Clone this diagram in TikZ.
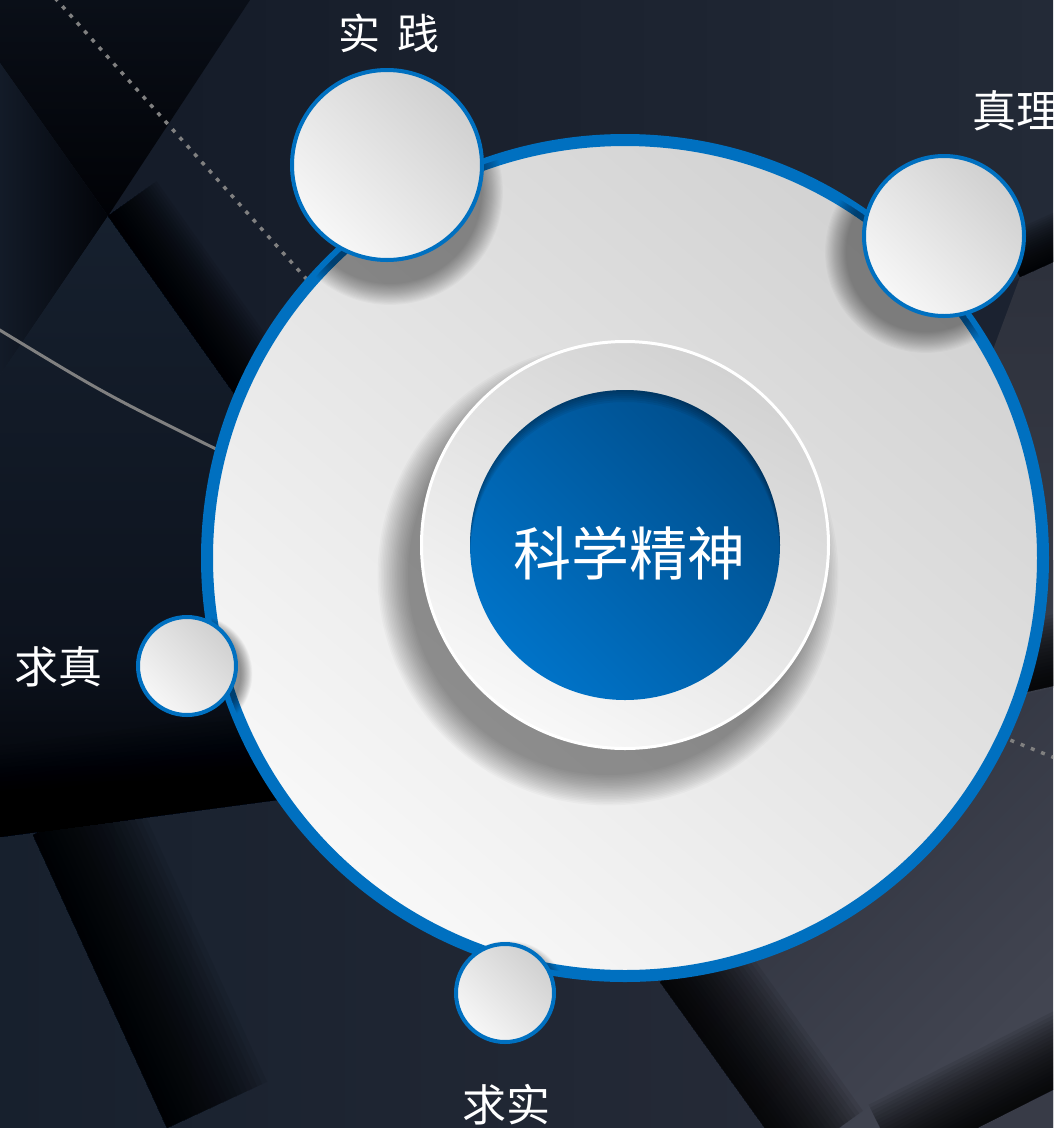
\documentclass[tikz,border=0pt]{standalone}
\usepackage{fontspec}
\setmainfont{Noto Sans CJK SC}
\usetikzlibrary{calc}
\definecolor{ringblue}{HTML}{0070C0}
\definecolor{diskdark}{HTML}{D2D2D2}
\definecolor{disklight}{HTML}{F8F8F8}
\definecolor{sdark}{HTML}{D0D0D0}
\definecolor{slight}{HTML}{F7F7F7}
\definecolor{coredark}{HTML}{004E8C}
\definecolor{corelight}{HTML}{0073C8}
\definecolor{lineg}{HTML}{808080}
\newcommand\softshadow[4]{\foreach \k in {1,...,20}{\pgfmathsetmacro\rr{#3+#4*(1-\k/20)}\fill[black,opacity=0.022] (#1,#2) circle[radius=\rr pt];}}
\newcommand\edgedark[6]{\foreach \k in {1,...,20}{\fill[black,opacity=#6] (#1) -- (#2) -- ($(#2)+({#3*#5*\k/20},{#4*#5*\k/20})$) -- ($(#1)+({#3*#5*\k/20},{#4*#5*\k/20})$) -- cycle;}}
\begin{document}
\begin{tikzpicture}[x=1pt,y=-1pt,
  smallnode/.style={circle, draw=ringblue, line width=4pt, inner sep=0pt, top color=sdark, bottom color=slight, shading angle=-45},
  labeltext/.style={text=white, inner sep=0pt, font=\fontsize{44pt}{46pt}\selectfont},
  dotline/.style={draw=lineg, line width=3.5pt, dash pattern=on 4pt off 7pt},
  greyline/.style={draw=lineg, line width=3pt}]
\useasboundingbox (0,0) rectangle (1053,1128);
\clip (0,0) rectangle (1053,1128);
% ---------- background ----------
\fill[color={rgb,255:red,27;green,34;blue,48}] (0,0) rectangle (1053,1128);
% top band
\shade[left color={rgb,255:red,20;green,27;blue,40}, right color={rgb,255:red,35;green,42;blue,55}] (250,0) -- (1053,0) -- (1053,262) -- (1020,277) -- (625,558) -- (240,400) -- (108,216) -- cycle;
% top-left black wedge
\shade[top color={rgb,255:red,10;green,15;blue,24}, bottom color={rgb,255:red,1;green,2;blue,6}] (0,0) -- (250,0) -- (108,216) -- (0,63) -- cycle;
% left wedge
\shade[left color={rgb,255:red,19;green,27;blue,40}, right color={rgb,255:red,2;green,4;blue,9}] (0,63) -- (108,216) -- (0,375) -- cycle;
% left middle panel
\shade[top color={rgb,255:red,22;green,32;blue,46}, bottom color={rgb,255:red,13;green,19;blue,30}] (108,216) -- (240,400) -- (235,650) -- (0,650) -- (0,375) -- cycle;
% black band
\shade[top color={rgb,255:red,13;green,19;blue,30}, bottom color={rgb,255:red,1;green,2;blue,5}] (0,650) -- (235,650) -- (277,800) -- (0,837) -- cycle;
% bottom-left panel
\shade[left color={rgb,255:red,23;green,32;blue,45}, right color={rgb,255:red,37;green,42;blue,55}] (0,837) -- (277,800) -- (500,760) -- (660,982) -- (765,1128) -- (0,1128) -- cycle;
% bottom-right panel
\shade[left color={rgb,255:red,39;green,43;blue,55}, right color={rgb,255:red,66;green,69;blue,81}, shading angle=45] (660,982) -- (1053,560) -- (1053,1128) -- (765,1128) -- cycle;
% right strip
\shade[top color={rgb,255:red,45;green,49;blue,60}, bottom color={rgb,255:red,58;green,61;blue,72}] (1020,277) -- (1053,262) -- (1053,688) -- (1000,700) -- (900,600) -- cycle;
\fill[color={rgb,255:red,56;green,59;blue,71}] (900,1167) -- (1100,1066) -- (1100,1180) -- cycle;
% dark edges
\edgedark{108,216}{260,430}{0.81}{-0.58}{60}{0.08}
\edgedark{33,835}{167,1128}{0.91}{-0.42}{110}{0.08}
\edgedark{660,982}{790,1163}{0.81}{-0.58}{90}{0.08}
\edgedark{900,1167}{1100,1066}{-0.45}{-0.89}{70}{0.08}
\edgedark{1020,277}{1080,250}{-0.41}{-0.91}{45}{0.08}
\edgedark{990,700}{1080,680}{-0.15}{-0.99}{70}{0.08}
\edgedark{0,837}{277,800}{-0.13}{-0.99}{90}{0.06}
% ---------- decorative lines ----------
\coordinate (d1s) at (55,-2);
\coordinate (d1e) at (310,283);
\draw[dotline] (d1s) -- (d1e);
\coordinate (g1s) at (-2,329);
\coordinate (g1e) at (222,452);
\draw[greyline] (g1s) .. controls (105,394) .. (g1e);
\coordinate (d2s) at (990,732);
\coordinate (d2e) at (1060,760);
\draw[dotline] (d2s) -- (d2e);
% ---------- big disk ----------
\node[circle, draw=ringblue, line width=12pt, minimum size=836pt, inner sep=0pt, top color=diskdark, bottom color=disklight, shading angle=-40] (big) at (625,558) {};
\begin{scope}
  \clip (big.center) circle[radius=418pt];
  \softshadow{390}{192}{92}{22}
  \softshadow{926}{252}{80}{22}
  \softshadow{193}{674}{48}{12}
  \softshadow{508}{1000}{48}{12}
  \softshadow{608}{575}{200}{32}
\end{scope}
% ---------- inner disks ----------
\node[circle, draw=white, line width=3pt, minimum size=407pt, inner sep=0pt, top color=diskdark, bottom color=disklight, shading angle=-30] (inner) at (625,545) {};
\node[circle, minimum size=310pt, inner sep=0pt, top color=coredark, bottom color=corelight, shading angle=-45] (core) at (625,545) {};
\begin{scope}
  \clip (core.center) circle[radius=155pt];
  \foreach \k in {1,...,6}{\fill[black,opacity=0.06,even odd rule] (core.center) circle[radius=160pt] ($(core.center)+(0,2*\k)$) circle[radius=155pt];}
\end{scope}
\node[text=white, inner sep=0pt, font=\fontsize{58pt}{60pt}\selectfont] (title) at (629,553) {科学精神};
% ---------- small circles ----------
\node[smallnode, minimum size=190pt] (c1) at (387,165) {};
\node[smallnode, minimum size=160pt] (c2) at (944,236) {};
\node[smallnode, minimum size=98pt] (c3) at (187,666) {};
\node[smallnode, minimum size=98pt] (c4) at (505,993) {};
% ---------- labels ----------
\node[labeltext, font=\fontsize{42pt}{44pt}\selectfont] (l1) at (389,33) {实\hspace{0.4em}践};
\node[labeltext, anchor=west] (l2) at (972,111) {真理};
\node[labeltext] (l3) at (58,667) {求真};
\node[labeltext] (l4) at (506,1105) {求实};
\end{tikzpicture}
\end{document}
